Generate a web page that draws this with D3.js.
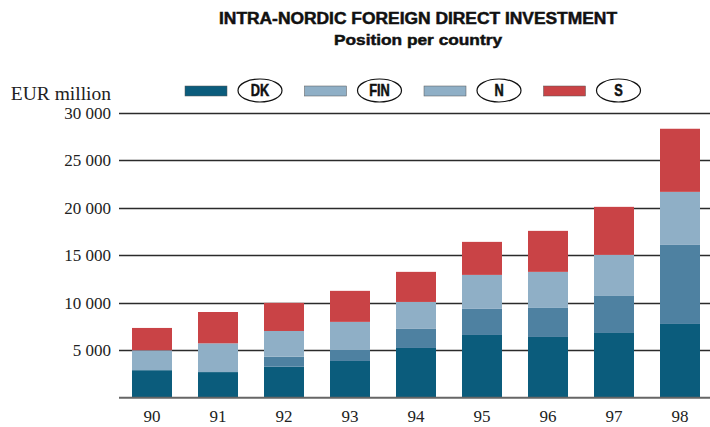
<!DOCTYPE html>
<html>
<head>
<meta charset="utf-8">
<script src="https://cdnjs.cloudflare.com/ajax/libs/d3/7.8.5/d3.min.js"></script>
<style>
  body { margin: 0; background: #fff; }
  .serif { font-family: "Liberation Serif", "Times New Roman", serif; fill: #222; }
  .cond { font-family: "Liberation Sans Narrow", "Arial Narrow", "Liberation Sans", sans-serif; font-weight: bold; fill: #111; stroke: #111; stroke-width: 0.5; }
</style>
</head>
<body>
<div id="chart"></div>
<script>
var years = ["90", "91", "92", "93", "94", "95", "96", "97", "98"];
var countries = ["DK", "FIN", "N", "S"];
var dk  = [2900, 2700, 3270, 3870, 5240, 6610, 6400, 6820, 7770];
var fin = [0, 0, 1050, 1160, 2010, 2750, 3060, 3900, 8330];
var nor = [2100, 3030, 2710, 2960, 2840, 3580, 3800, 4330, 5590];
var swe = [2350, 3300, 2960, 3270, 3170, 3480, 4320, 5060, 6650];
var yTicks = [5000, 10000, 15000, 20000, 25000, 30000];

var barColors = {DK: "#0b5c7c", FIN: "#4e81a1", N: "#8fafc6", S: "#c94346"};
// the printed legend shows FIN and N in the same light blue
var legendColors = {DK: "#0b5c7c", FIN: "#8fafc6", N: "#8fafc6", S: "#c94346"};

var rows = years.map(function(y, i) {
  return {year: y, DK: dk[i], FIN: fin[i], N: nor[i], S: swe[i]};
});

var svg = d3.select("#chart").append("svg")
  .attr("width", 710)
  .attr("height", 427);

var x = d3.scaleBand()
  .domain(years)
  .range([119, 713])
  .paddingInner(26 / 66)
  .paddingOuter(13 / 66);

var y = d3.scaleLinear()
  .domain([0, 30000])
  .range([397.7, 113]);

// titles
svg.append("text")
  .attr("class", "cond")
  .attr("x", 418).attr("y", 24)
  .attr("text-anchor", "middle")
  .attr("font-size", 16)
  .attr("textLength", 398)
  .attr("lengthAdjust", "spacingAndGlyphs")
  .text("INTRA-NORDIC FOREIGN DIRECT INVESTMENT");

svg.append("text")
  .attr("class", "cond")
  .attr("x", 418).attr("y", 45)
  .attr("text-anchor", "middle")
  .attr("font-size", 15.5)
  .attr("textLength", 168)
  .attr("lengthAdjust", "spacingAndGlyphs")
  .text("Position per country");

svg.append("text")
  .attr("class", "serif")
  .attr("x", 111).attr("y", 100)
  .attr("text-anchor", "end")
  .attr("font-size", 19.5)
  .text("EUR million");

// gridlines
svg.selectAll(".grid").data(yTicks).enter().append("line")
  .attr("class", "grid")
  .attr("x1", 119).attr("x2", 710)
  .attr("y1", function(d) { return Math.round(y(d)) + 0.5; })
  .attr("y2", function(d) { return Math.round(y(d)) + 0.5; })
  .attr("stroke", "#2b2b2b")
  .attr("stroke-width", 1.3);

svg.selectAll(".ytick").data(yTicks).enter().append("text")
  .attr("class", "serif")
  .attr("x", 111)
  .attr("y", function(d) { return y(d) + 6; })
  .attr("text-anchor", "end")
  .attr("font-size", 17)
  .text(function(d) { return d3.format(",")(d).replace(",", " "); });

// stacked bars
var stack = d3.stack().keys(countries);
var layers = svg.selectAll(".layer").data(stack(rows)).enter().append("g")
  .attr("class", "layer")
  .attr("fill", function(d) { return barColors[d.key]; });

layers.selectAll("rect").data(function(d) { return d; }).enter().append("rect")
  .attr("x", function(d) { return x(d.data.year); })
  .attr("width", x.bandwidth())
  .attr("y", function(d) { return y(d[1]); })
  .attr("height", function(d) { return y(d[0]) - y(d[1]); });

// baseline
svg.append("line")
  .attr("x1", 119).attr("x2", 710)
  .attr("y1", y(0)).attr("y2", y(0))
  .attr("stroke", "#666")
  .attr("stroke-width", 2);

svg.selectAll(".xlab").data(years).enter().append("text")
  .attr("class", "serif")
  .attr("x", function(d) { return x(d) + x.bandwidth() / 2; })
  .attr("y", 422)
  .attr("text-anchor", "middle")
  .attr("font-size", 17)
  .text(function(d) { return d; });

// legend
var legend = svg.selectAll(".legend").data(countries).enter().append("g")
  .attr("class", "legend")
  .attr("transform", function(d, i) { return "translate(" + (185 + 119.5 * i) + ",0)"; });

legend.append("rect")
  .attr("x", 0).attr("y", 86)
  .attr("width", 42).attr("height", 10)
  .attr("fill", function(d) { return legendColors[d]; })
  .attr("stroke", "#555")
  .attr("stroke-width", 0.5);

legend.append("ellipse")
  .attr("cx", 75).attr("cy", 90.5)
  .attr("rx", 22).attr("ry", 11.5)
  .attr("fill", "#fff")
  .attr("stroke", "#111")
  .attr("stroke-width", 1.2);

legend.append("text")
  .attr("class", "cond")
  .attr("transform", "translate(75,96) scale(0.8,1)")
  .attr("text-anchor", "middle")
  .attr("font-size", 16)
  .text(function(d) { return d; });
</script>
</body>
</html>
